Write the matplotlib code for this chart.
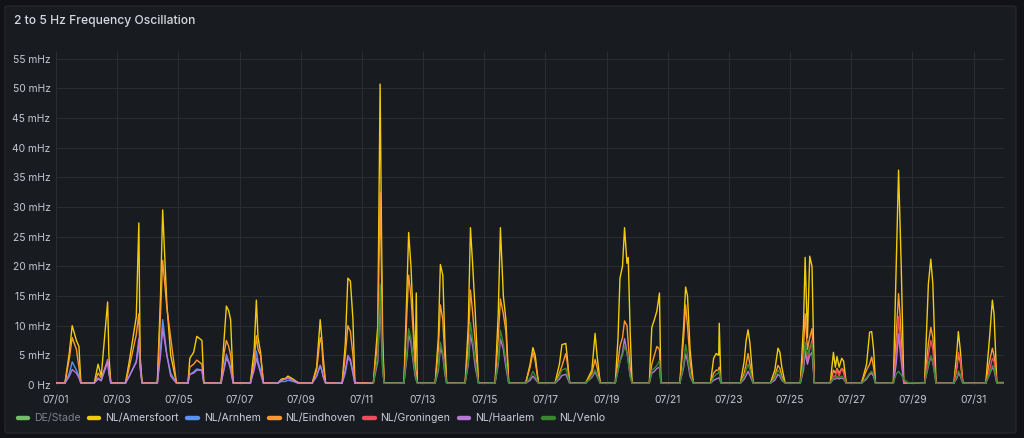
import numpy as np
import matplotlib.pyplot as plt
import matplotlib.dates as mdates
from matplotlib.lines import Line2D
from matplotlib.patches import FancyBboxPatch
from matplotlib.ticker import FuncFormatter

plt.rcParams['font.family'] = ['Inter', 'DejaVu Sans']

## hours of day for the knots of each day (07/01 .. 07/31), values in mHz
day_hours = [
    [0, 7, 10.5, 12.7, 16, 18, 19.5],
    [6, 9, 11.5, 16.5, 17.5, 19],
    [6.5, 9.5, 15, 17, 18, 19.5],
    [7.5, 10, 11.7, 15, 18, 22.5],
    [7.5, 9, 12, 14.5, 18.5, 20],
    [9.5, 12, 13.7, 15.5, 17, 19],
    [8.5, 11.5, 13.2, 14.5, 16.5, 18.7],
    [6, 9, 12, 14, 18, 22],
    [9, 12.5, 15.3, 16.5, 17.5, 19.5],
    [8.5, 11, 13, 15, 17, 18.5],
    [9, 12.5, 14.3, 15.3, 16.3, 17.5],
    [9, 11.5, 12.7, 14.5, 16.5, 17.8, 18.7, 19.5],
    [9.5, 12, 13.6, 15.5, 17, 18.5],
    [9, 11.5, 13.2, 15, 17, 19.5],
    [8.5, 11, 12.7, 15, 17, 19.2],
    [8.5, 12, 14.2, 16, 18.5],
    [7.5, 11, 13, 16, 17, 19],
    [7.5, 12.5, 15, 16.5, 19],
    [6.8, 9, 10.5, 12.5, 14.1, 16, 17, 18.5, 20],
    [9.5, 11.5, 13.5, 15.5, 17.5, 18.6],
    [9.5, 12.5, 14, 15.5, 17.5, 20],
    [9.5, 12, 14, 16, 16.4, 17.7],
    [9, 12, 13.5, 15, 16.5, 19],
    [8.5, 12, 14.5, 16, 17.5, 20],
    [8, 10.5, 11.8, 13.6, 15.4, 17.2, 19],
    [7.5, 10, 11.5, 12.8, 14.5, 16.5, 18, 20],
    [8, 12, 14.4, 16, 17.5, 19],
    [9, 11.2, 13.1, 14.2, 15.2, 17.2, 20.5],
    [9.5, 12.5, 14.4, 16, 18.5],
    [8.5, 11, 12, 13.5, 15.5],
    [9.5, 12.5, 14.7, 16, 18.2, 24],
]

amersfoort = [
    [0.4, 0.3, 5.5, 10.0, 7.5, 6.5, 0.4],
    [0.3, 3.5, 1.5, 14.0, 5.0, 0.4],
    [0.3, 4.0, 11.5, 27.3, 5.0, 0.4],
    [0.3, 15, 29.5, 13.5, 5, 0.4],
    [0.3, 4.5, 5.5, 8.2, 7.5, 0.4],
    [0.3, 8, 13.3, 12.5, 11, 0.4],
    [0.3, 6, 14.3, 8, 5.5, 0.4],
    [0.3, 1.0, 1.1, 1.5, 1.0, 0.4],
    [0.3, 3, 11, 8, 5, 0.4],
    [0.3, 7, 18, 17.5, 11, 0.4],
    [0.3, 10, 50.7, 28, 8, 0.4],
    [0.3, 17, 25.7, 20, 10, 3, 15.5, 0.4],
    [0.3, 8, 20.3, 18.5, 8, 0.4],
    [0.3, 10, 26.5, 20, 12, 0.4],
    [0.3, 12, 26.5, 15, 11, 0.4],
    [0.3, 3.5, 6.3, 5, 0.4],
    [0.3, 3.5, 6.8, 7.0, 5, 0.4],
    [0.3, 2.5, 8.7, 5, 0.4],
    [0.3, 8, 18, 20, 26.5, 20.5, 21.5, 9, 0.4],
    [0.3, 9.7, 11, 12.5, 15.5, 0.4],
    [0.3, 10, 16.5, 15, 6, 0.4],
    [0.3, 4.5, 5.3, 5.0, 10.4, 0.4],
    [0.3, 4, 7.5, 9.3, 7, 0.4],
    [0.3, 2.5, 6.2, 5.5, 3, 0.4],
    [0.3, 10, 21.5, 8, 21.7, 20, 0.4],
    [0.3, 5.5, 3, 4.8, 3, 4.5, 4, 0.4],
    [0.3, 3.5, 8.9, 9.0, 6, 0.4],
    [0.3, 19.6, 36.2, 27.7, 20, 0.4, 0.4],
    [0.3, 17, 21.2, 17, 0.4],
    [0.3, 6, 9.0, 6, 0.4],
    [0.3, 8, 14.3, 12, 0.4, 0.4],
]

arnhem = [
    [0.3, 0.3, 2.0, 3.9, 2.5, 1.5, 0.3],
    [0.3, 1.2, 0.8, 3.8, 2.0, 0.3],
    [0.3, 1.5, 4.0, 7.0, 3.0, 0.3],
    [0.3, 6, 11, 5, 2, 0.3],
    [0.3, 1.8, 2.2, 2.7, 2.5, 0.3],
    [0.3, 3, 5.2, 4, 3, 0.3],
    [0.3, 3, 5.7, 4, 2.5, 0.3],
    [0.3, 0.6, 0.6, 0.8, 0.6, 0.3],
    [0.3, 1.5, 3.3, 2.5, 1.5, 0.3],
    [0.3, 2, 4.5, 4, 2, 0.3],
] + [None] * 21

eindhoven = [
    [0.4, 0.3, 4.5, 8.0, 6.0, 3.0, 0.4],
    [0.3, 2.0, 1.2, 4.0, 3.0, 0.4],
    [0.3, 3.0, 8.5, 12.0, 4.0, 0.4],
    [0.3, 12, 21, 13, 8, 0.4],
    [0.3, 3.0, 3.5, 4.2, 3.5, 0.4],
    [0.3, 5.5, 7.5, 6.5, 5, 0.4],
    [0.3, 4, 8.3, 6.0, 5.0, 0.4],
    [0.3, 0.9, 1.0, 1.2, 0.8, 0.4],
    [0.3, 2.5, 8, 7, 3.5, 0.4],
    [0.3, 5, 10, 9, 5, 0.4],
    [0.3, 8, 32.5, 20, 6, 0.4],
    [0.3, 13, 18.5, 15, 8, 3, 2, 0.4],
    [0.3, 6, 13.5, 11, 5, 0.4],
    [0.3, 7, 16, 12, 7, 0.4],
    [0.3, 8, 14.5, 12, 9, 0.4],
    [0.3, 3, 5.5, 4, 0.4],
    [0.3, 2.0, 3.2, 5.3, 4, 0.4],
    [0.3, 2, 4.3, 3, 0.4],
    [0.3, 4, 6.5, 8, 10.8, 10, 7, 3, 0.4],
    [0.3, 3.5, 5, 6.5, 6, 0.4],
    [0.3, 8, 13.5, 10, 4, 0.4],
    [0.3, 2.0, 2.5, 2.5, 3.0, 0.4],
    [0.3, 2, 3.5, 5.3, 3.5, 0.4],
    [0.3, 1.5, 3.3, 2.8, 1.5, 0.4],
    [0.3, 6, 12, 6, 8, 9.5, 0.4],
    [0.3, 2.5, 2, 2.8, 2, 2.8, 2.5, 0.4],
    [0.3, 2.5, 3.5, 4.7, 3, 0.4],
    [0.3, 8, 15.4, 12, 8, 0.4, 0.4],
    [0.3, 7, 9.7, 8, 0.4],
    [0.3, 3, 5.0, 4, 0.4],
    [0.3, 4, 6.2, 5, 0.4, 0.4],
]

groningen = [None] * 24 + [
    [0.3, 3.5, 6.5, 4, 6, 7.5, 0.3],
    [0.3, 1.5, 1.5, 2.5, 1.5, 2.8, 2, 0.3],
    [0.3, 1.2, 1.8, 2.0, 1.5, 0.3],
    [0.3, 5, 11.5, 8, 5, 0.3, 0.3],
    [0.3, 5, 7.5, 6, 0.3],
    [0.3, 3.5, 5.5, 4.5, 0.3],
    [0.3, 2.5, 4.5, 4, 0.3, 0.3],
]

haarlem = [
    [0.3, 0.3, 1.5, 2.6, 2.0, 1.2, 0.3],
    [0.3, 1.0, 0.7, 4.3, 2.0, 0.3],
    [0.3, 1.5, 3.8, 7.8, 3.0, 0.3],
    [0.3, 5, 9.5, 5, 1.5, 0.3],
    [0.3, 1.8, 2.0, 2.5, 2.5, 0.3],
    [0.3, 2.8, 4.5, 3.8, 2.5, 0.3],
    [0.3, 2.5, 4.5, 3.5, 2.0, 0.3],
    [0.3, 0.8, 1.0, 1.2, 0.8, 0.3],
    [0.3, 1.5, 3.3, 2.5, 1.5, 0.3],
    [0.3, 2.5, 5, 4.3, 2, 0.3],
    [0.3, 4, 14, 8, 2.5, 0.3],
    [0.3, 5, 8.5, 7, 3.5, 1.5, 0.8, 0.3],
    [0.3, 2.5, 6.3, 5, 2, 0.3],
    [0.3, 3.5, 8.5, 6.5, 3, 0.3],
    [0.3, 3.5, 7.8, 6, 3, 0.3],
    [0.3, 0.8, 1.5, 1.0, 0.3],
    [0.3, 1.0, 1.6, 1.8, 1.3, 0.3],
    [0.3, 1.3, 2.2, 1.5, 0.3],
    [0.3, 2.5, 4, 5.5, 7.8, 5.5, 4, 1.5, 0.3],
    [0.3, 2.0, 2.3, 2.8, 3.0, 0.3],
    [0.3, 3, 5.2, 4, 1.5, 0.3],
    [0.3, 0.8, 1.0, 1.2, 1.2, 0.3],
    [0.3, 1.0, 1.6, 2.3, 1.6, 0.3],
    [0.3, 0.8, 1.8, 1.5, 0.8, 0.3],
    [0.3, 2.5, 5.5, 3.5, 5, 5.5, 0.3],
    [0.3, 1.0, 1.0, 1.2, 1.0, 1.2, 1.0, 0.3],
    [0.3, 1.0, 1.8, 2.0, 1.5, 0.3],
    [0.3, 3.5, 8.6, 6, 4, 0.3, 0.3],
    [0.3, 3.2, 4.8, 3.8, 0.3],
    [0.3, 1.2, 2.0, 1.5, 0.3],
    [0.3, 1.8, 3.0, 2.5, 0.3, 0.3],
]

venlo = [None] * 10 + [
    [0.3, 5, 17, 10, 3, 0.3],
    [0.3, 6, 9.5, 8, 4, 2, 1, 0.3],
    [0.3, 3, 7.2, 5.5, 2.5, 0.3],
    [0.3, 4, 10.5, 7.5, 4, 0.3],
    [0.3, 4, 9.2, 7, 4, 0.3],
    [0.3, 1.2, 2.3, 1.5, 0.3],
    [0.3, 1.5, 2.5, 2.8, 2, 0.3],
    [0.3, 1.5, 2.5, 1.8, 0.3],
    [0.3, 2.5, 4, 5, 6.5, 5.5, 4, 1.5, 0.3],
    [0.3, 2.5, 2.8, 3.3, 4.1, 0.3],
    [0.3, 3.5, 6.8, 5, 2, 0.3],
    [0.3, 1.3, 1.8, 2.0, 2.5, 0.3],
    [0.3, 1.5, 2.5, 3.5, 2.5, 0.3],
    [0.3, 1.2, 2.5, 2.0, 1.0, 0.3],
    [0.3, 3.5, 7.2, 5, 6.5, 7.0, 0.3],
    [0.3, 1.2, 1.2, 1.5, 1.2, 1.5, 1.2, 0.3],
    [0.3, 1.2, 2.0, 2.3, 1.8, 0.3],
    [0.3, 1.8, 2.3, 2.0, 1.7, 1.0, 0.4],
    [0.3, 3.5, 5.0, 4, 0.3],
    [0.3, 1.5, 2.4, 1.8, 0.3],
    [0.3, 2, 3.3, 3, 0.3, 0.3],
]

names = ['DE/Stade', 'NL/Amersfoort', 'NL/Arnhem', 'NL/Eindhoven',
         'NL/Groningen', 'NL/Haarlem', 'NL/Venlo']
colors = ['#73BF69', '#F2CC0C', '#5794F2', '#FF9830', '#F2495C', '#B877D9', '#37872D']
series = [None, amersfoort, arnhem, eindhoven, groningen, haarlem, venlo]

start = np.datetime64('2023-07-01T00:00')


def flatten(s):
    t, v = [], []
    for d, (hrs, vals) in enumerate(zip(day_hours, s)):
        if vals is None:
            continue
        for h, x in zip(hrs, vals):
            t.append(start + np.timedelta64(int(round((d * 24 + h) * 60)), 'm'))
            v.append(x)
    return np.array(t), np.array(v)


fig = plt.figure(figsize=(10.24, 4.38), dpi=100, facecolor='#111217')
panel = FancyBboxPatch((5 / 1024, 5 / 438), 1011 / 1024, 427 / 438,
                       boxstyle='round,pad=0,rounding_size=0.004',
                       transform=fig.transFigure, facecolor='#181b1f',
                       edgecolor='#24262b', lw=1, zorder=-10)
fig.patches.append(panel)

fig.text(14 / 1024, 1 - 21 / 438, '2 to 5 Hz Frequency Oscillation',
         color='#d8d9e0', fontsize=8.7, fontweight='medium', va='center')

ax = fig.add_axes([56 / 1024, 1 - 385 / 438, 948 / 1024, 333 / 438])
ax.set_facecolor('none')

for s, c in zip(series, colors):
    if s is None:
        continue
    t, v = flatten(s)
    ax.plot(t, v, color=c, lw=1.0)

ax.set_xlim(start, start + np.timedelta64(31 * 24 * 60 - 10, 'm'))
ax.set_ylim(0, 56.1)
ax.set_yticks(np.arange(0, 56, 5))
ax.yaxis.set_major_formatter(FuncFormatter(lambda y, p: '0 Hz' if y == 0 else '%d mHz' % y))
ax.xaxis.set_major_locator(mdates.DayLocator(bymonthday=range(1, 32, 2)))
ax.xaxis.set_major_formatter(mdates.DateFormatter('%m/%d'))
ax.grid(True, color='#2a2d32', lw=0.8)
ax.set_axisbelow(True)
for sp in ax.spines.values():
    sp.set_visible(False)
ax.tick_params(length=0, colors='#c7c8d0', labelsize=7.4)
ax.tick_params(axis='y', pad=4)
ax.tick_params(axis='x', pad=7)

handles = [Line2D([0], [0], color=c, lw=3.2, solid_capstyle='round') for c in colors]
leg = fig.legend(handles, names, loc='center left', bbox_to_anchor=(8 / 1024, 1 - 418 / 438),
                 ncol=7, frameon=False, handlelength=1.0, handletextpad=0.55,
                 columnspacing=0.8, fontsize=7.6)
for i, txt in enumerate(leg.get_texts()):
    txt.set_color('#7f8088' if i == 0 else '#ccccdc')

fig.savefig('out.png', dpi=100, facecolor=fig.get_facecolor())
